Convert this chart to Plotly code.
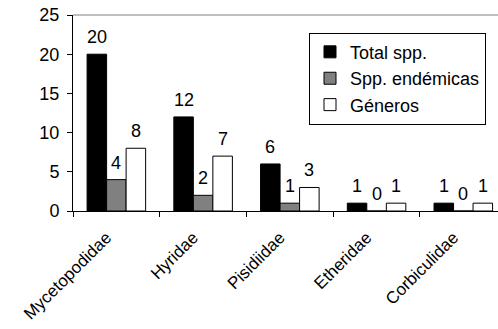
import plotly.graph_objects as go

categories = ["Mycetopodidae", "Hyridae", "Pisidiidae", "Etheridae", "Corbiculidae"]
total_spp = [20, 12, 6, 1, 1]
spp_endemicas = [4, 2, 1, 0, 0]
generos = [8, 7, 3, 1, 1]

series = [
    ("Total spp.", total_spp, "#000000"),
    ("Spp. endémicas", spp_endemicas, "#808080"),
    ("Géneros", generos, "#ffffff"),
]

FONT = "Liberation Sans, Arial, sans-serif"
FS = 18

W, H = 498, 329
ML, MR, MT, MB = 73, 0, 15, 118
XRANGE = [-0.5, 4.4]
BARGAP = 0.325

fig = go.Figure()
for name, vals, color in series:
    fig.add_trace(go.Bar(
        name=name, x=categories, y=vals,
        marker=dict(color=color, line=dict(color="#000000", width=1)),
        cliponaxis=False,
    ))

# value labels placed above each bar
cat_px = (W - ML - MR) / (XRANGE[1] - XRANGE[0])
bar_px = cat_px * (1 - BARGAP) / len(series)
annotations = []
for j, (name, vals, color) in enumerate(series):
    for i, v in enumerate(vals):
        annotations.append(dict(
            x=categories[i], y=v, xref="x", yref="y",
            text=str(v), showarrow=False, yanchor="bottom",
            xshift=(j - (len(series) - 1) / 2) * bar_px, yshift=5,
            font=dict(family=FONT, size=FS, color="#000000"),
        ))

fig.update_layout(
    width=W, height=H,
    margin=dict(l=ML, r=MR, t=MT, b=MB),
    paper_bgcolor="white", plot_bgcolor="white",
    barmode="group", bargap=BARGAP, bargroupgap=0,
    font=dict(family=FONT, size=FS, color="#000000"),
    showlegend=True,
    legend=dict(
        x=(486 - ML) / (W - ML - MR), xanchor="right", y=0.91, yanchor="top",
        bordercolor="#000000", borderwidth=1, bgcolor="white",
        font=dict(family=FONT, size=FS, color="#000000"),
        itemwidth=30, tracegroupgap=0,
    ),
    xaxis=dict(
        range=XRANGE, showline=True, linecolor="#000000", linewidth=1,
        ticks="outside", tickson="boundaries", ticklen=5, tickcolor="#000000",
        tickangle=-45, showgrid=False, zeroline=False, automargin=False,
        ticklabelstandoff=9, ticklabelshift=-10,
        tickfont=dict(family=FONT, size=17, color="#000000"),
    ),
    yaxis=dict(
        range=[0, 25], tickvals=[0, 5, 10, 15, 20, 25],
        showline=True, linecolor="#000000", linewidth=1,
        ticks="outside", ticklen=5, tickcolor="#000000",
        showgrid=False, zeroline=False, ticklabelstandoff=4, automargin=False,
        tickfont=dict(family=FONT, size=FS, color="#000000"),
    ),
    annotations=annotations,
    shapes=[dict(type="line", xref="paper", yref="paper", x0=0, x1=1, y0=1, y1=1,
                 line=dict(color="#808080", width=1))],
)

fig.write_html("out.html")
